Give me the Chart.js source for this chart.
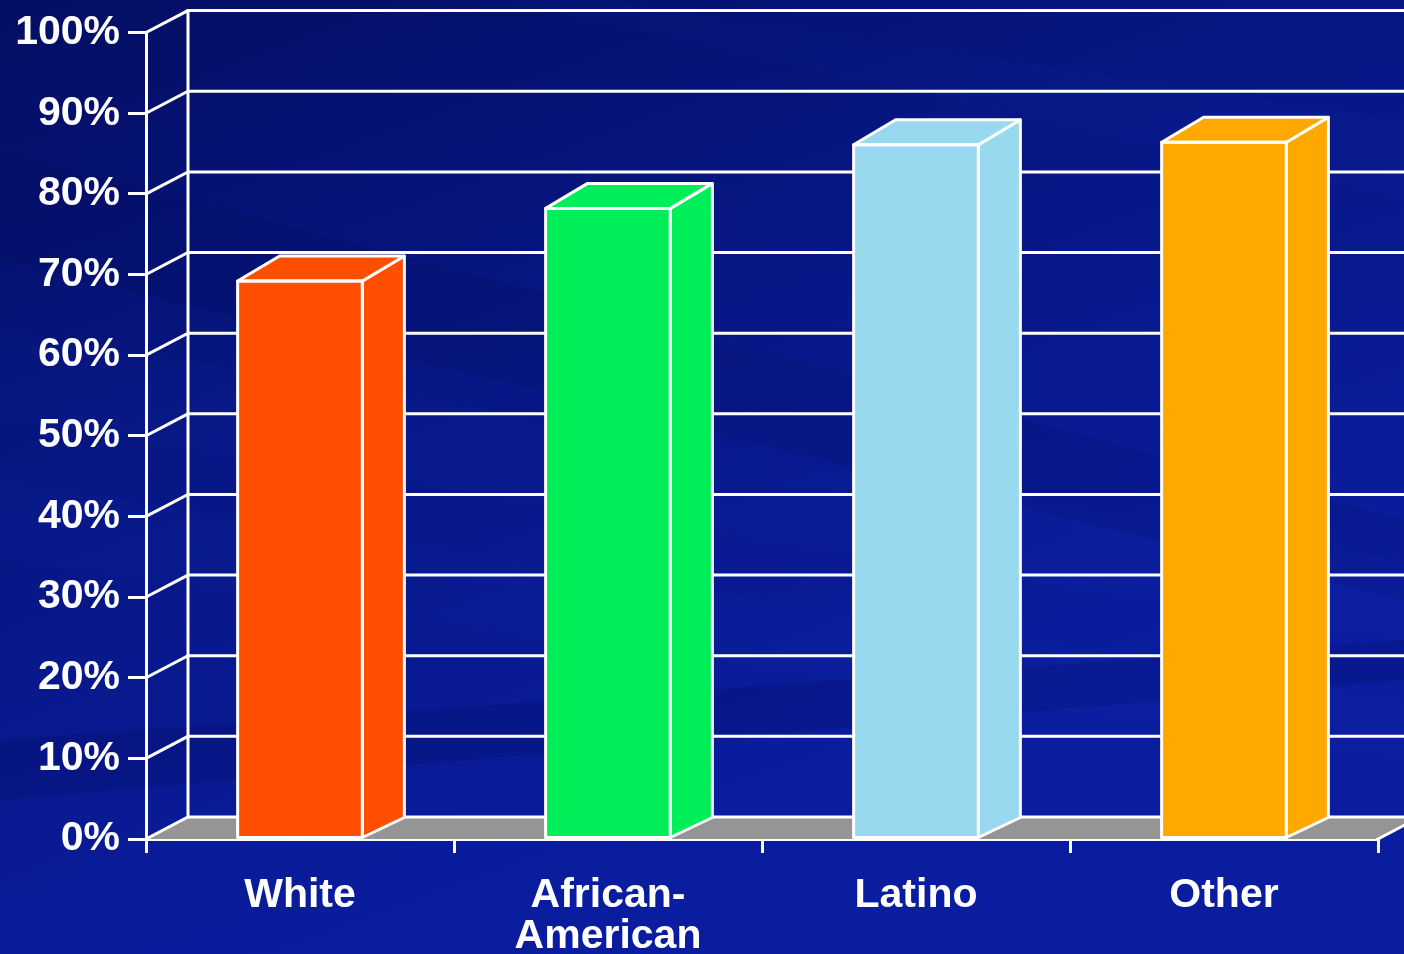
<!DOCTYPE html>
<html>
<head>
<meta charset="utf-8">
<script src="https://cdn.jsdelivr.net/npm/chart.js@4.4.1/dist/chart.umd.min.js"></script>
<style>
  html, body { margin:0; padding:0; background:#06147a; }
  #wrap { width:1404px; height:954px; }
</style>
</head>
<body>
<div id="wrap"><canvas id="ch" width="1404" height="954"></canvas></div>
<script>
// datos
const categorias = ['White', ['African-', 'American'], 'Latino', 'Other'];
const valores    = [69.2, 78.2, 86.1, 86.4];
const colores    = ['#FF4E00', '#00EE58', '#99D9EF', '#FFA800'];
const yTicks     = [0, 10, 20, 30, 40, 50, 60, 70, 80, 90, 100];

const DX = 42, DY = -22;        // profundidad de la pared
const DY_TOP = -25, DY_BASE = -20; // profundidad de las barras
const BLANCO = '#ffffff';
const FONT = '"Liberation Sans", Arial, sans-serif';

// fondo con vetas
const fondo = {
  id: 'fondo',
  beforeDraw(c) {
    const ctx = c.ctx, W = c.width, H = c.height;
    ctx.save();
    const g = ctx.createLinearGradient(0, 0, W * 0.25, H);
    g.addColorStop(0, '#040e62');
    g.addColorStop(0.45, '#071682');
    g.addColorStop(1, '#0a1d9e');
    ctx.fillStyle = g;
    ctx.fillRect(0, 0, W, H);
    const vetas = [
      [[0, 150], [1404, 520], [1404, 600], [0, 260], 'rgba(0,0,40,0.08)'],
      [[0, 330], [1404, 560], [1404, 640], [0, 420], 'rgba(40,70,200,0.06)'],
      [[0, 740], [1404, 640], [1404, 680], [0, 800], 'rgba(0,0,40,0.12)'],
      [[600, 0], [1404, 120], [1404, 200], [500, 0], 'rgba(30,60,190,0.07)'],
      [[0, 480], [1404, 700], [1404, 760], [0, 560], 'rgba(40,80,220,0.05)']
    ];
    vetas.forEach(v => {
      ctx.fillStyle = v[4];
      ctx.beginPath();
      ctx.moveTo(v[0][0], v[0][1]); ctx.lineTo(v[1][0], v[1][1]);
      ctx.lineTo(v[2][0], v[2][1]); ctx.lineTo(v[3][0], v[3][1]);
      ctx.closePath(); ctx.fill();
    });
    ctx.restore();
  }
};

// pared trasera, piso y rejilla
const pared = {
  id: 'pared',
  beforeDatasetsDraw(c) {
    const ctx = c.ctx, a = c.chartArea, y = c.scales.y;
    const y0 = y.getPixelForValue(0);
    ctx.save();
    // piso
    ctx.fillStyle = '#959595';
    ctx.beginPath();
    ctx.moveTo(a.left, y0); ctx.lineTo(a.right, y0);
    ctx.lineTo(a.right + DX, y0 + DY); ctx.lineTo(a.left + DX, y0 + DY);
    ctx.closePath(); ctx.fill();
    ctx.strokeStyle = BLANCO; ctx.lineWidth = 3; ctx.lineCap = 'square';
    yTicks.forEach(t => {
      const p = y.getPixelForValue(t);
      ctx.beginPath();
      ctx.moveTo(a.left, p); ctx.lineTo(a.left + DX, p + DY);
      ctx.lineTo(c.width + 5, p + DY);
      ctx.stroke();
    });
    ctx.beginPath();
    ctx.moveTo(a.left + DX, y0 + DY);
    ctx.lineTo(a.left + DX, y.getPixelForValue(100) + DY);
    ctx.stroke();
    ctx.beginPath();
    ctx.moveTo(a.right, y0); ctx.lineTo(a.right + DX, y0 + DY);
    ctx.stroke();
    ctx.restore();
  },
  afterDatasetsDraw(c) {
    const ctx = c.ctx, meta = c.getDatasetMeta(0);
    ctx.save();
    ctx.strokeStyle = BLANCO; ctx.lineWidth = 3; ctx.lineJoin = 'round';
    meta.data.forEach((b, i) => {
      const p = b.getProps(['x', 'y', 'base', 'width'], true);
      const l = p.x - p.width / 2, r = p.x + p.width / 2;
      ctx.fillStyle = colores[i];
      // lado
      ctx.beginPath();
      ctx.moveTo(r, p.base); ctx.lineTo(r + DX, p.base + DY_BASE);
      ctx.lineTo(r + DX, p.y + DY_TOP); ctx.lineTo(r, p.y);
      ctx.closePath(); ctx.fill(); ctx.stroke();
      // techo
      ctx.beginPath();
      ctx.moveTo(l, p.y); ctx.lineTo(l + DX, p.y + DY_TOP);
      ctx.lineTo(r + DX, p.y + DY_TOP); ctx.lineTo(r, p.y);
      ctx.closePath(); ctx.fill(); ctx.stroke();
      ctx.strokeRect(l, p.y, p.width, p.base - p.y);
    });
    ctx.restore();
  }
};

new Chart(document.getElementById('ch'), {
  type: 'bar',
  data: {
    labels: categorias,
    datasets: [{
      data: valores,
      backgroundColor: colores,
      borderColor: BLANCO,
      borderWidth: 0,
      categoryPercentage: 1,
      barPercentage: 0.405
    }]
  },
  options: {
    responsive: false,
    animation: false,
    devicePixelRatio: 1,
    layout: { padding: { top: 31, right: 26, left: 0, bottom: 0 } },
    plugins: { legend: { display: false }, tooltip: { enabled: false } },
    scales: {
      y: {
        min: 0, max: 100,
        afterFit(s) { s.width = 146; },
        afterBuildTicks(s) { s.ticks = yTicks.map(v => ({ value: v })); },
        border: { display: true, color: BLANCO, width: 3 },
        grid: { drawOnChartArea: false, color: BLANCO, lineWidth: 3, tickLength: 18 },
        ticks: {
          color: BLANCO, padding: 8,
          font: { family: FONT, size: 41, weight: 'bold' },
          callback: v => v + '%'
        }
      },
      x: {
        afterFit(s) { s.height = 115; },
        border: { display: true, color: BLANCO, width: 3 },
        grid: { drawOnChartArea: false, color: BLANCO, lineWidth: 3, tickLength: 14, offset: true },
        ticks: {
          color: BLANCO, padding: 23, maxRotation: 0,
          font: { family: FONT, size: 41, weight: 'bold', lineHeight: 0.98 }
        }
      }
    }
  },
  plugins: [fondo, pared]
});
</script>
</body>
</html>
